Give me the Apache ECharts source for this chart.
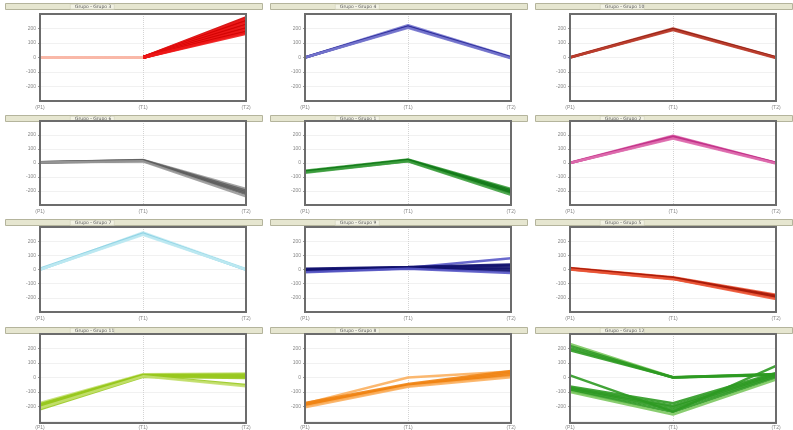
<!DOCTYPE html>
<html>
<head>
<meta charset="utf-8">
<script src="https://cdn.jsdelivr.net/npm/echarts@6/dist/echarts.min.js"></script>
<style>
html, body { margin: 0; background: #fff; }
#chart { width: 793px; height: 430px; }
</style>
</head>
<body>
<div id="chart"></div>
<script>
const categories = ['(P1)', '(T1)', '(T2)'];
const yTicks = [-200, -100, 0, 100, 200];
const titles = ['Grupo - Grupo 3', 'Grupo - Grupo 4', 'Grupo - Grupo 10',
    'Grupo - Grupo 6', 'Grupo - Grupo 1', 'Grupo - Grupo 2',
    'Grupo - Grupo 7', 'Grupo - Grupo 9', 'Grupo - Grupo 5',
    'Grupo - Grupo 11', 'Grupo - Grupo 8', 'Grupo - Grupo 12'];

// each row = one profile: values at the three categories
const redLines = [[0, 0, 275], [0, 0, 262], [0, 0, 250], [0, 0, 238], [0, 0, 225], [0, 0, 212], [0, 0, 200], [0, 0, 188], [0, 0, 176], [0, 0, 165]];
const blueLines = [[0, 222, 3], [0, 215, 0], [0, 210, -2], [0, 205, -5]];
const brownLines = [[2, 200, 2], [0, 195, 0], [0, 190, -3]];
const grayLines = [[6, 22, -185], [5, 20, -198], [3, 15, -210], [5, 18, -222], [4, 12, -238]];
const greenLines = [[-55, 25, -185], [-62, 22, -195], [-60, 20, -205], [-65, 15, -214], [-70, 12, -228]];
const magentaLines = [[2, 195, 2], [0, 190, 0], [0, 180, 0], [0, 175, -3]];
const cyanLines = [[-3, 262, 2], [5, 255, -3], [0, 250, 0], [0, 245, 0]];
const navyLines = [[-8, 12, 80], [5, 18, 35], [0, 15, 28], [-5, 12, 15], [-10, 10, 2], [-15, 8, -12], [-20, 5, -25]];
const rustLines = [[10, -55, -178], [8, -58, -185], [5, -60, -192], [2, -65, -200], [0, -68, -208]];
const limeLines = [[-175, 22, 28], [-185, 18, 20], [-190, 15, 12], [-205, 10, 5], [-220, 5, -3], [-195, 12, -52], [-210, 8, -60]];
const orangeLines = [[-180, 0, 42], [-175, -45, 45], [-185, -52, 35], [-195, -58, 25], [-190, -55, 12], [-205, -64, 2]];
const leafLines = [[232, 2, 22], [218, 0, 20], [202, 0, 18], [188, 2, 24],
    [15, -235, 80],
    [-62, -178, 32], [-70, -195, 25], [-75, -205, 18], [-82, -220, 10], [-92, -238, 0], [-100, -255, -15]];

const panels = [redLines, blueLines, brownLines, grayLines, greenLines, magentaLines,
    cyanLines, navyLines, rustLines, limeLines, orangeLines, leafLines];

const darkColors = ['#e00a0a', '#2c2c9a', '#7a1208', '#5e5e5e', '#137a1a', '#c02f86',
    '#8fd3e4', '#12126e', '#a81c0a', '#98c81e', '#f08414', '#2e9a22'];
const lightColors = ['#f04040', '#7a7ad0', '#c04030', '#9a9a9a', '#3fa040', '#e070b0',
    '#c0eaf2', '#5a5ac8', '#f05a3a', '#c4e070', '#fbb060', '#7cc860'];

const colLeft = [40, 305, 570];
const plotW = 206;
const rowTop = [14, 121, 227, 334];
const rowH = [87, 84, 85, 89];
const headLeft = [5, 270, 535];
const headW = 257;
const headTop = [3, 115, 219, 327];

const chart = echarts.init(document.getElementById('chart'));

const grids = [], xAxes = [], yAxes = [], series = [], graphics = [];
panels.forEach((lines, i) => {
    const r = Math.floor(i / 3), c = i % 3;
    grids.push({
        left: colLeft[c], top: rowTop[r], width: plotW, height: rowH[r]
    });
    xAxes.push({
        type: 'category', gridIndex: i, data: categories, boundaryGap: false,
        axisLine: { show: false }, axisTick: { show: false },
        axisLabel: { fontSize: 5, color: '#888', margin: 4 },
        splitLine: {
            show: true, lineStyle: { color: '#d4d4d4', type: 'dotted' },
            interval: (idx) => idx === 1
        }
    });
    yAxes.push({
        type: 'value', gridIndex: i, min: -300, max: 300, interval: 100,
        axisLine: { show: false },
        axisTick: { show: true, length: 2, lineStyle: { color: '#999' } },
        axisLabel: {
            fontSize: 5, color: '#888', margin: 4, showMinLabel: false, showMaxLabel: false,
            formatter: v => (yTicks.includes(v) ? String(v) : '')
        },
        splitLine: { show: true, lineStyle: { color: '#f1f1f1' } }
    });
    lines.forEach((vals, j) => {
        let color = (j === 0 || j === lines.length - 1) ? lightColors[i] : darkColors[i];
        if (i === 0) {
            color = new echarts.graphic.LinearGradient(0, 0, 1, 0, [
                { offset: 0, color: '#f9b8a8' },
                { offset: 0.5, color: '#f9b8a8' },
                { offset: 0.5, color: j % 2 ? '#f01818' : '#d00000' },
                { offset: 1, color: j % 2 ? '#f01818' : '#d00000' }
            ]);
        }
        series.push({
            type: 'line', xAxisIndex: i, yAxisIndex: i, data: vals,
            symbol: 'none', silent: true,
            lineStyle: { width: i === 0 ? 3 : 2.5, color: color, opacity: 0.9 }
        });
    });
    // panel frame
    graphics.push({
        type: 'rect', z: 100, silent: true,
        shape: { x: colLeft[c], y: rowTop[r], width: plotW, height: rowH[r] },
        style: { fill: null, stroke: '#6c6c6c', lineWidth: 2 }
    });
    graphics.push({
        type: 'rect', left: headLeft[c], top: headTop[r],
        shape: { width: headW, height: 6 },
        style: { fill: '#e6e6d0', stroke: '#b4b49c', lineWidth: 1 }
    });
    graphics.push({
        type: 'rect', left: headLeft[c] + 65, top: headTop[r] + 1,
        shape: { width: 44, height: 5 },
        style: { fill: '#f2f2e4', stroke: '#c8c8b4', lineWidth: 0.5 }
    });
    graphics.push({
        type: 'text', left: headLeft[c] + 70, top: headTop[r] + 1,
        style: { text: titles[i], fontSize: 4.5, fill: '#555', fontFamily: 'DejaVu Sans' }
    });
});

chart.setOption({
    backgroundColor: '#fff',
    animation: false,
    grid: grids,
    xAxis: xAxes,
    yAxis: yAxes,
    series: series,
    graphic: graphics
});
</script>
</body>
</html>
